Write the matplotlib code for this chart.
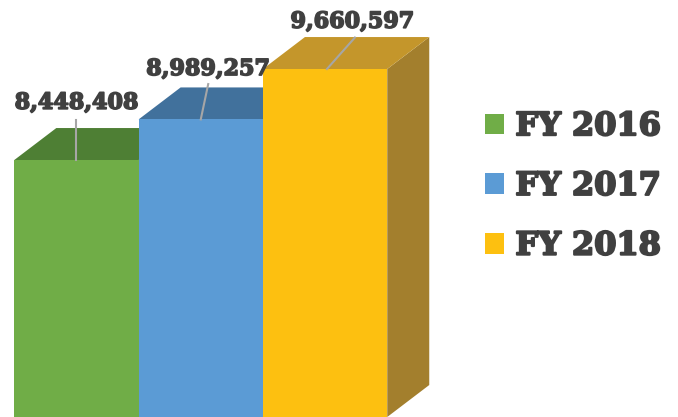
import matplotlib.pyplot as plt
import matplotlib.patheffects as pe
from matplotlib.patches import Polygon, Patch

# data
years = ["FY 2016", "FY 2017", "FY 2018"]
values = [8448408, 8989257, 9660597]
front_colors = ["#70AD47", "#5B9BD5", "#FDC010"]
top_colors = ["#4E7F34", "#41719C", "#C4962B"]
side_colors = ["#507D33", "#3F6E98", "#A37F2D"]

fig = plt.figure(figsize=(6.78, 4.17), dpi=100)
ax = fig.add_axes([0, 0, 1, 1])
ax.set_xlim(-0.615, 4.839)
ax.set_ylim(5025000, 10580000)
ax.axis("off")

width = 1.0
dx = 0.338      # depth offset in x units
dy = 426000     # depth offset in value units
floor = 5025000

for i, v in enumerate(values):
    x0 = i - width / 2
    x1 = i + width / 2
    # side face
    ax.add_patch(Polygon([(x1, floor), (x1 + dx, floor + dy), (x1 + dx, v + dy), (x1, v)],
                         closed=True, facecolor=side_colors[i], edgecolor="none", zorder=2 + 3 * i))
    # top face
    ax.add_patch(Polygon([(x0, v), (x1, v), (x1 + dx, v + dy), (x0 + dx, v + dy)],
                         closed=True, facecolor=top_colors[i], edgecolor="none", zorder=2 + 3 * i))
    # front face
    ax.bar(i, v - floor, bottom=floor, width=width, color=front_colors[i],
           edgecolor="none", zorder=3 + 3 * i)

# heavier look for the text
thick = [pe.withStroke(linewidth=1.2, foreground="#404040")]

# labels with leader lines
label_pos = [(0.0, 9210000), (1.06, 9660000), (2.22, 10290000)]
line_top = [(0.0, 8980000), (1.06, 9460000), (2.24, 10080000)]
line_bot = [(0.0, 8448408), (1.0, 8989257), (2.015, 9660597)]
for i, v in enumerate(values):
    ax.plot([line_top[i][0], line_bot[i][0]], [line_top[i][1], line_bot[i][1]],
            color="#A6A6A6", lw=1.5, zorder=20)
    ax.text(label_pos[i][0], label_pos[i][1], f"{v:,}", ha="center", va="center",
            fontsize=16, fontweight="bold", family="DejaVu Serif", color="#404040",
            zorder=21, path_effects=thick)

handles = [Patch(facecolor=c, edgecolor="none") for c in front_colors]
leg = ax.legend(handles, years, loc="center left", bbox_to_anchor=(0.673, 0.553),
                frameon=False, handlelength=0.6, handleheight=0.6, handletextpad=0.35,
                labelspacing=0.9, prop={"family": "DejaVu Serif", "weight": "bold", "size": 23})
for t in leg.get_texts():
    t.set_color("#404040")
    t.set_path_effects([pe.withStroke(linewidth=1.5, foreground="#404040")])

fig.savefig("out.png", dpi=100)
